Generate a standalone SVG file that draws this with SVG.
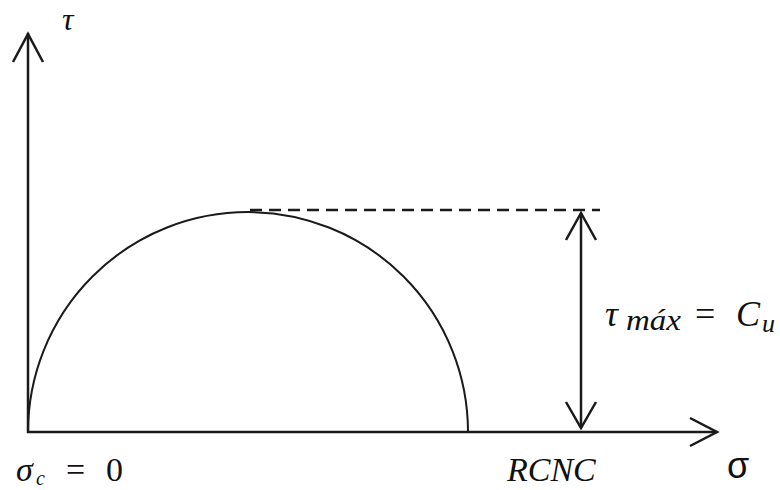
<svg xmlns="http://www.w3.org/2000/svg" width="780" height="490" viewBox="0 0 780 490">
<style>
.ax{stroke:#1a1a1a;stroke-width:2.5;fill:none}
.ah{stroke:#1a1a1a;stroke-width:2.5;fill:none;stroke-linejoin:miter}
.arc{stroke:#1a1a1a;stroke-width:2;fill:none}
.dash{stroke:#1a1a1a;stroke-width:2.5;fill:none;stroke-dasharray:12 7}
.m{font-family:"Liberation Serif","DejaVu Serif",serif;font-style:italic;fill:#111}
.r{font-family:"Liberation Serif","DejaVu Serif",serif;fill:#111}
</style>
<rect width="780" height="490" fill="#fff"/>
<g id="axes">
<line class="ax" x1="28" y1="33" x2="28" y2="433"/>
<polyline class="ah" points="13,62 28,34 43,62"/>
<line class="ax" x1="27" y1="432" x2="717" y2="432"/>
<polyline class="ah" points="690,418 717,432 690,446"/>
</g>
<g id="circle">
<path class="arc" d="M28,432 A220,220 0 0 1 468,432"/>
</g>
<g id="connectors">
<line class="dash" x1="250" y1="210" x2="600" y2="210"/>
<line class="ax" x1="581" y1="213" x2="581" y2="428"/>
<polyline class="ah" points="566,240 581,213 596,240"/>
<polyline class="ah" points="566,402 581,428 596,402"/>
</g>
<g id="labels">
<text class="m" x="62" y="30" font-size="32">τ</text>
<text class="m" x="605" y="326" font-size="36">τ</text>
<text class="m" x="626" y="330" font-size="30" textLength="55" lengthAdjust="spacingAndGlyphs">máx</text>
<text class="r" x="695" y="326" font-size="36">=</text>
<text class="m" x="736" y="326" font-size="36">C</text>
<text class="m" x="762" y="332" font-size="26">u</text>
<text class="m" x="16" y="481" font-size="34">σ</text>
<text class="m" x="36" y="485" font-size="20">c</text>
<text class="r" x="66" y="481" font-size="34">=</text>
<text class="r" x="106" y="481" font-size="34">0</text>
<text class="m" x="507" y="481" font-size="34">RCNC</text>
<text font-family="'Liberation Sans','DejaVu Sans',sans-serif" x="727" y="478" font-size="36" fill="#111">σ</text>
</g>
</svg>
